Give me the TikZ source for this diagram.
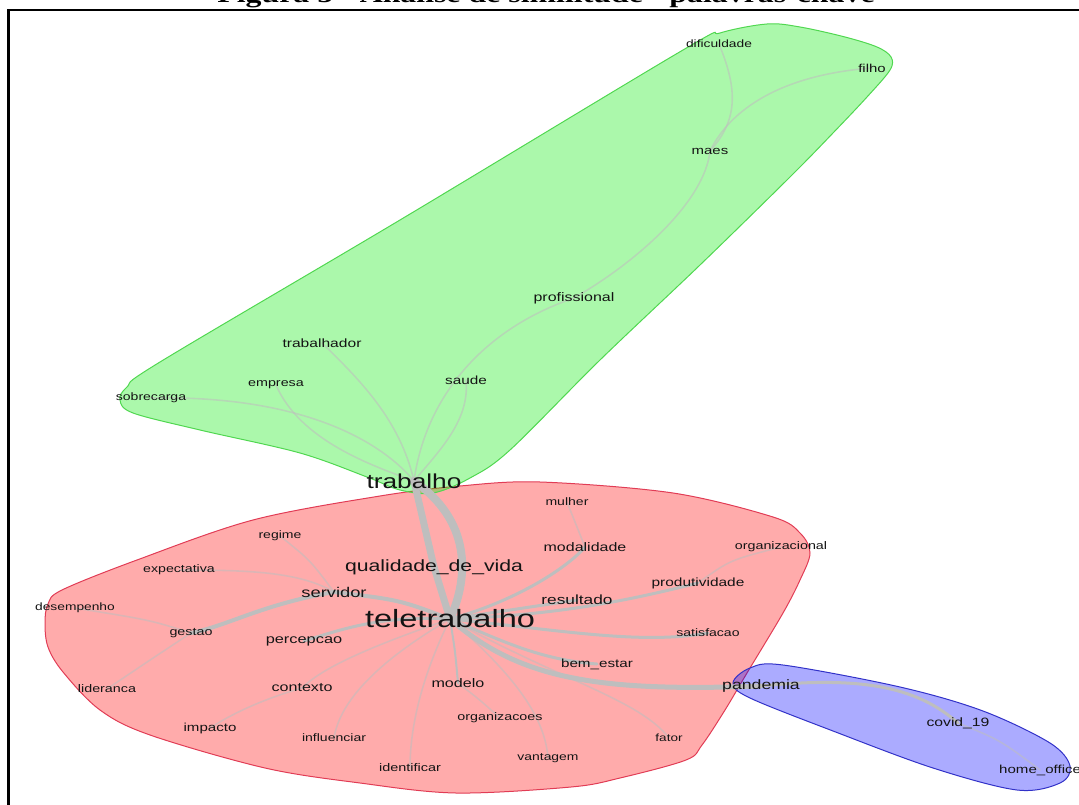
\documentclass[tikz,border=0pt]{standalone}
\usepackage{fontspec}
\setmainfont{Liberation Sans}
\newfontfamily\serifft{Liberation Serif}
\newcommand{\wide}[1]{\scalebox{1.3}[1]{#1}}
\definecolor{gFill}{RGB}{0,235,0}
\definecolor{rFill}{RGB}{255,0,0}
\definecolor{bFill}{RGB}{0,0,255}
\definecolor{gLine}{RGB}{80,215,80}
\definecolor{rLine}{RGB}{225,60,85}
\definecolor{bLine}{RGB}{50,50,200}
\definecolor{edgeC}{RGB}{190,190,190}
\pgfdeclarelayer{hulls}
\pgfdeclarelayer{edges}
\pgfsetlayers{hulls,edges,main}
\tikzset{
  lab/.style={inner sep=0pt, text=black!92, font=\fontsize{#1}{#1}\selectfont},
  hull/.style={fill=#1, fill opacity=0.33},
  edge/.style={draw=edgeC, line cap=round, line width=#1},
  faint/.style={draw=edgeC, line cap=round, line width=1.6, draw opacity=0.55},
}
\begin{document}
\begin{tikzpicture}[x=1pt,y=-1pt]
\useasboundingbox (0,0) rectangle (1079,805);
% frame and title
\coordinate (frTR) at (1079,10);
\coordinate (frTL) at (8.5,10);
\coordinate (frBL) at (8.5,805);
\draw[line width=2.4] (frTR) -- (frTL) -- (frBL);
\node[anchor=base, inner sep=0pt, font=\serifft\bfseries\fontsize{24.5}{24.5}\selectfont] (title) at (546,2.5) {\wide{Figura 5 - Análise de similitude - palavras-chave}};

% green cluster labels
\node[lab=10.6] (dif) at (719,44) {\wide{dificuldade}};
\node[lab=11.5] (filho) at (872,68) {\wide{filho}};
\node[lab=11.5] (maes) at (710,151) {\wide{maes}};
\node[lab=12.3] (prof) at (574,298) {\wide{profissional}};
\node[lab=12] (trabr) at (322,343) {\wide{trabalhador}};
\node[lab=11] (empr) at (276,385) {\wide{empresa}};
\node[lab=11.8] (saude) at (466,380) {\wide{saude}};
\node[lab=10.8] (sobre) at (151,398) {\wide{sobrecarga}};
\node[lab=20.2] (trab) at (414,481) {\wide{trabalho}};

% red cluster labels
\node[lab=10.8] (mulher) at (567,502) {\wide{mulher}};
\node[lab=10.8] (regime) at (280,536) {\wide{regime}};
\node[lab=12.3] (modal) at (585,547) {\wide{modalidade}};
\node[lab=11] (orgz) at (781,547) {\wide{organizacional}};
\node[lab=16.3] (qdv) at (434,567) {\wide{qualidade\_de\_vida}};
\node[lab=10.9] (expect) at (179,570) {\wide{expectativa}};
\node[lab=11.9] (produt) at (698,583) {\wide{produtividade}};
\node[lab=14.1] (serv) at (334,592) {\wide{servidor}};
\node[lab=13.3] (result) at (577,600) {\wide{resultado}};
\node[lab=10.6] (desemp) at (75,608) {\wide{desempenho}};
\node[lab=25] (tele) at (450,619) {\wide{teletrabalho}};
\node[lab=11] (gestao) at (191,633) {\wide{gestao}};
\node[lab=10.8] (satisf) at (708,633) {\wide{satisfacao}};
\node[lab=12.6] (perc) at (304,641) {\wide{percepcao}};
\node[lab=11.7] (bem) at (597,664) {\wide{bem\_estar}};
\node[lab=12.4] (modelo) at (458,683) {\wide{modelo}};
\node[lab=12.4] (context) at (302,688) {\wide{contexto}};
\node[lab=11] (lider) at (107,689) {\wide{lideranca}};
\node[lab=11.6] (impacto) at (210,728) {\wide{impacto}};
\node[lab=11] (orgs) at (500,718) {\wide{organizacoes}};
\node[lab=10.8] (influ) at (334,738) {\wide{influenciar}};
\node[lab=10.4] (fator) at (669,738) {\wide{fator}};
\node[lab=10.7] (vant) at (548,758) {\wide{vantagem}};
\node[lab=11.1] (ident) at (410,768) {\wide{identificar}};

% blue cluster labels
\node[lab=13.6] (pand) at (761,686) {\wide{pandemia}};
\node[lab=12.1] (covid) at (958,723) {\wide{covid\_19}};
\node[lab=11.6, anchor=west] (home) at (999,770) {\wide{home\_office}};

\begin{pgfonlayer}{hulls}
\filldraw[hull=rFill, draw=rLine, line width=1] plot[smooth cycle, tension=0.55] coordinates {
 (380,496) (460,486) (540,482) (673,493) (773,517) (800,533) (810,553) (800,580)
 (783,613) (747,673) (725,710) (702,745) (686,760) (620,778) (571,787) (456,793)
 (360,783) (265,768) (150,735) (100,710) (63,672) (48,647) (45,623) (48,604)
 (62,590) (137,560) (253,520)};
\filldraw[hull=bFill, draw=bLine, line width=1] plot[smooth cycle, tension=0.55] coordinates {
 (733,683) (750,668) (783,665) (900,687) (983,711) (1050,743) (1070,766)
 (1060,783) (1017,790) (933,768) (833,731) (750,698)};
\filldraw[hull=gFill, draw=gLine, line width=1] plot[smooth cycle, tension=0.55] coordinates {
 (767,24) (800,27) (845,37) (877,47) (891,57) (890,70) (867,97) (833,133)
 (790,177) (700,265) (600,360) (510,450) (470,478) (433,493) (400,490)
 (367,477) (300,453) (200,430) (133,413) (120,400) (127,387) (160,362)
 (400,220) (683,50) (720,33)};
\end{pgfonlayer}

\begin{pgfonlayer}{edges}
% green
\draw[faint] (dif.center) .. controls (738,90) and (738,120) .. (maes.center);
\draw[faint] (filho.center) .. controls (780,75) and (730,110) .. (maes.center);
\draw[faint] (maes.center) .. controls (705,200) and (640,260) .. (prof.center);
\draw[faint] (prof.center) .. controls (480,330) and (425,400) .. (trab.center);
\draw[faint] (saude.center) .. controls (470,420) and (440,450) .. (trab.center);
\draw[faint] (trabr.center) .. controls (360,380) and (400,420) .. (trab.center);
\draw[faint] (sobre.center) .. controls (300,395) and (380,440) .. (trab.center);
\draw[faint] (empr.center) .. controls (300,440) and (370,465) .. (trab.center);
% red
\draw[edge=8] (trab.center) .. controls (470,520) and (470,575) .. (tele.center);
\draw[edge=7] (trab.center) -- (qdv.center);
\draw[edge=7] (qdv.center) -- (tele.center);
\draw[edge=4] (tele.center) .. controls (400,600) .. (serv.center);
\draw[edge=4] (serv.center) .. controls (260,605) and (230,625) .. (gestao.center);
\draw[faint] (serv.center) .. controls (310,560) .. (regime.center);
\draw[faint] (serv.center) .. controls (300,572) and (250,570) .. (expect.center);
\draw[faint] (gestao.center) .. controls (150,620) .. (desemp.center);
\draw[faint] (gestao.center) .. controls (150,660) .. (lider.center);
\draw[edge=3] (tele.center) .. controls (380,615) and (340,630) .. (perc.center);
\draw[faint] (tele.center) .. controls (360,650) and (320,670) .. (context.center);
\draw[faint] (context.center) .. controls (260,700) and (230,715) .. (impacto.center);
\draw[faint] (tele.center) .. controls (380,660) and (340,700) .. (influ.center);
\draw[faint] (tele.center) .. controls (420,680) and (410,730) .. (ident.center);
\draw[edge=2] (tele.center) .. controls (455,650) .. (modelo.center);
\draw[faint] (modelo.center) .. controls (480,700) .. (orgs.center);
\draw[faint] (tele.center) .. controls (520,680) and (545,720) .. (vant.center);
\draw[faint] (tele.center) .. controls (560,680) and (640,700) .. (fator.center);
\draw[edge=3] (tele.center) .. controls (500,640) and (540,660) .. (bem.center);
\draw[edge=5] (tele.center) .. controls (520,680) and (600,692) .. (pand.center);
\draw[edge=3] (tele.center) .. controls (560,630) and (640,645) .. (satisf.center);
\draw[edge=3] (tele.center) .. controls (560,615) and (630,600) .. (produt.center);
\draw[edge=3] (tele.center) -- (result.center);
\draw[edge=3] (tele.center) .. controls (520,600) and (570,565) .. (modal.center);
\draw[faint] (modal.center) -- (mulher.center);
\draw[faint] (produt.center) .. controls (730,560) .. (orgz.center);
% blue
\draw[edge=3] (pand.center) .. controls (870,675) and (920,690) .. (covid.center);
\draw[faint] (covid.center) .. controls (1000,740) .. (home.center);
\end{pgfonlayer}
\end{tikzpicture}
\end{document}
